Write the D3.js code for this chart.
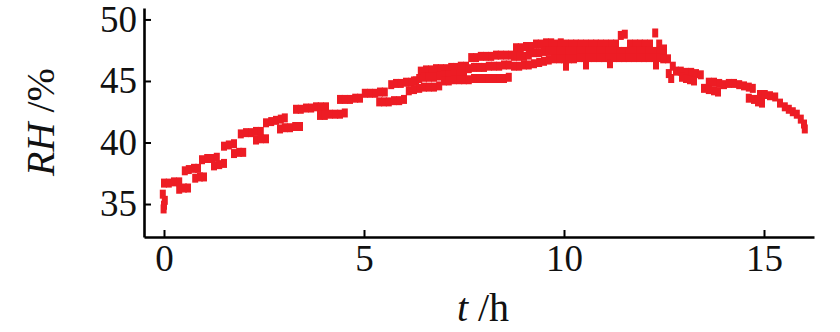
<!DOCTYPE html>
<html>
<head>
<meta charset="utf-8">
<script src="https://cdn.jsdelivr.net/npm/d3@7"></script>
<style>
  html, body { margin: 0; padding: 0; background: #ffffff; }
  svg { display: block; }
</style>
</head>
<body>
<svg id="chart" width="840" height="332"></svg>
<script>
// Relative humidity logged over a 16 h run: [hour, RH %]
// upper readings of the logger band
const upperReadings = [
  [0.0,36.7],[0.12,36.7],[0.25,36.8],[0.38,36.8],
  [0.52,37.7],[0.62,37.8],[0.75,37.9],[0.85,37.9],
  [0.95,38.6],[1.08,38.7],[1.2,38.7],[1.32,38.8],
  [1.5,39.7],[1.62,39.8],[1.75,39.9],
  [1.92,40.7],[2.05,40.8],[2.18,40.8],[2.3,40.9],[2.42,40.9],
  [2.55,41.6],[2.68,41.7],[2.8,41.8],[2.92,41.9],[3.02,42.0],
  [3.3,42.7],[3.42,42.7],[3.55,42.8],[3.68,42.8],[3.8,42.9],[3.92,42.9],[4.05,42.9],
  [4.4,43.5],[4.52,43.5],[4.65,43.5],[4.78,43.6],[4.9,43.6],
  [5.02,44.0],[5.15,44.0],[5.28,44.0],[5.4,44.1],[5.52,44.1],
  [5.68,44.7],[5.8,44.8],[5.92,44.8],[6.05,44.9],[6.18,44.9],[6.3,45.0],
  [6.42,45.8],[6.55,45.9],[6.68,45.9],[6.8,46.0],[6.92,46.0],[7.05,46.0],[7.18,46.1],[7.3,46.1],[7.42,46.2],[7.55,46.2],
  [7.68,46.9],[7.8,46.9],[7.92,47.0],[8.05,47.0],[8.18,47.0],[8.3,47.1],[8.42,47.1],[8.55,47.1],[8.68,47.1],
  [8.8,47.7],[8.92,47.7],[9.05,47.8],[9.18,47.8],
  [9.3,48.0],[9.42,48.0],[9.55,48.1],[9.68,48.1],[9.8,48.0],[9.92,48.1],[10.05,48.0],[10.18,48.0],
  [10.3,48.0],[10.42,48.0],[10.55,48.0],[10.68,48.0],[10.8,48.0],[10.92,48.0],[11.05,48.0],[11.18,48.0],
  [11.3,48.0],[11.42,48.7],[11.52,48.8],[11.65,48.0],[11.78,48.0],[11.9,48.0],[12.02,48.0],[12.15,48.0],
  [12.28,48.9],[12.38,48.0],[12.5,47.6],
  [12.6,46.8],[12.72,46.2],
  [12.8,45.8],[12.92,45.8],[13.05,45.7],[13.18,45.7],[13.3,45.6],[13.42,45.5],
  [13.62,44.9],[13.75,44.9],[13.88,44.8],[14.0,44.7],[14.12,44.8],[14.25,44.8],[14.38,44.7],[14.5,44.6],[14.62,44.5],[14.72,44.4],
  [14.9,43.9],[15.02,43.9],[15.15,43.8],[15.28,43.7],
  [15.4,43.2],[15.52,42.9],[15.62,42.7],[15.72,42.5],[15.82,42.3],
  [15.92,41.9],[16.0,41.5],[16.02,41.1]
];

// middle readings (dense part of the run)
const middleReadings = [
  [6.25,45.0],[6.38,45.2],[6.5,45.3],[6.62,45.3],[6.75,45.3],[6.88,45.4],[7.0,45.5],[7.12,45.5],
  [7.25,45.6],[7.38,45.6],[7.5,45.6],[7.62,46.0],[7.75,46.1],[7.88,46.1],[8.0,46.1],[8.12,46.2],
  [8.25,46.2],[8.38,46.2],[8.5,46.3],[8.62,46.3],[8.75,47.0],[8.88,47.0],[9.0,47.0],[9.12,47.1],
  [9.25,47.3],[9.38,47.3],[9.5,47.4],[9.62,47.4],[9.75,47.4],[9.88,47.4],[10.0,47.4],[10.12,47.4],
  [10.25,47.4],[10.38,47.4],[10.5,47.4],[10.62,47.4],[10.75,47.4],[10.88,47.4],[11.0,47.4],[11.12,47.4],
  [11.25,47.4],[11.38,47.4],[11.5,47.4],[11.62,47.4],[11.75,47.4],[11.88,47.4],[12.0,47.4],[12.12,47.4],
  [12.25,47.4],[12.38,47.4],[12.5,47.2]
];

// lower readings of the logger band
const lowerReadings = [
  [-0.03,35.8],[0.02,35.3],[0.0,34.9],[-0.01,34.6],
  [0.38,36.2],[0.5,36.3],[0.6,36.3],
  [0.78,37.1],[0.9,37.2],[1.0,37.2],
  [1.25,38.1],[1.38,38.2],[1.5,38.3],
  [1.75,39.1],[1.88,39.2],[1.98,39.2],
  [2.3,40.2],[2.42,40.3],[2.55,40.3],
  [2.9,41.1],[3.02,41.2],[3.15,41.2],[3.28,41.3],[3.4,41.3],
  [3.9,42.2],[4.02,42.2],[4.15,42.3],[4.28,42.3],[4.4,42.3],[4.52,42.4],
  [5.38,43.3],[5.5,43.3],[5.62,43.3],[5.75,43.4],[5.88,43.4],[6.0,43.5],
  [6.12,44.2],[6.25,44.3],[6.38,44.4],[6.5,44.5],[6.62,44.5],[6.75,44.5],[6.88,44.6],
  [7.0,45.0],[7.12,45.0],[7.25,45.1],[7.38,45.1],[7.5,45.1],[7.62,45.1],[7.75,45.2],[7.88,45.2],
  [8.0,45.2],[8.12,45.2],[8.25,45.2],[8.38,45.2],[8.5,45.2],[8.62,45.3],
  [8.75,46.2],[8.88,46.2],[9.0,46.3],[9.12,46.3],[9.25,46.4],[9.38,46.5],[9.5,46.6],[9.62,46.7],
  [9.75,46.8],[9.88,46.8],[10.0,46.8],[10.05,46.2],[10.12,46.8],[10.25,46.8],[10.38,46.9],[10.5,46.9],
  [10.55,46.3],[10.62,46.9],[10.75,46.9],[10.88,46.9],[11.0,46.9],[11.12,46.9],[11.15,46.4],[11.25,46.9],
  [11.38,46.9],[11.5,46.9],[11.62,46.9],[11.75,46.9],[11.88,46.9],[12.0,46.9],[12.12,46.9],[12.25,46.9],
  [12.3,46.3],[12.38,46.9],[12.48,46.8],
  [12.62,45.6],[12.68,45.2],
  [12.95,45.3],[13.05,45.2],[13.15,45.1],[13.25,45.0],
  [13.5,44.4],[13.62,44.3],[13.75,44.2],[13.85,44.1],
  [14.62,43.6],[14.75,43.5],[14.85,43.3],[14.95,43.2]
];

const xTicks = [0, 5, 10, 15];
const yTicks = [35, 40, 45, 50];

const svg = d3.select("#chart");

const x = d3.scaleLinear().domain([-0.5, 16.25]).range([144, 814]);
const y = d3.scaleLinear().domain([32.32, 50.93]).range([237, 8]);

const serif = "'Liberation Serif', 'Times New Roman', serif";
const red = "#ed1c24";
const markW = 6, markH = 9;

// markers
const allReadings = [...upperReadings, ...middleReadings, ...lowerReadings];
svg.append("g")
  .selectAll("rect")
  .data(allReadings)
  .join("rect")
  .attr("x", d => x(d[0]) - markW / 2)
  .attr("y", d => y(d[1]) - markH / 2)
  .attr("width", markW)
  .attr("height", markH)
  .attr("fill", red);

// axes with inward ticks
const xAxis = svg.append("g")
  .attr("transform", `translate(0,${y.range()[0]})`)
  .call(d3.axisBottom(x).tickValues(xTicks).tickFormat(d3.format("d"))
    .tickSize(-7).tickSizeOuter(0).tickPadding(8));

const yAxis = svg.append("g")
  .attr("transform", `translate(${x.range()[0]},0)`)
  .call(d3.axisLeft(y).tickValues(yTicks).tickFormat(d3.format("d"))
    .tickSize(-7).tickSizeOuter(0).tickPadding(7));

[xAxis, yAxis].forEach(g => {
  g.select(".domain").attr("stroke", "#000").attr("stroke-width", 2.6);
  g.selectAll(".tick line").attr("stroke", "#000").attr("stroke-width", 2);
  g.selectAll(".tick text")
    .attr("fill", "#111")
    .style("font-family", serif)
    .style("font-size", "37px");
});

// axis titles
const yTitle = svg.append("text")
  .attr("transform", "translate(54,122) rotate(-90)")
  .attr("text-anchor", "middle")
  .style("font-family", serif)
  .style("font-size", "40px")
  .attr("fill", "#111");
yTitle.append("tspan").style("font-style", "italic").text("RH");
yTitle.append("tspan").text(" /%");

const xTitle = svg.append("text")
  .attr("x", 483)
  .attr("y", 321)
  .attr("text-anchor", "middle")
  .style("font-family", serif)
  .style("font-size", "40px")
  .attr("fill", "#111");
xTitle.append("tspan").style("font-style", "italic").text("t");
xTitle.append("tspan").text(" /h");
</script>
</body>
</html>
